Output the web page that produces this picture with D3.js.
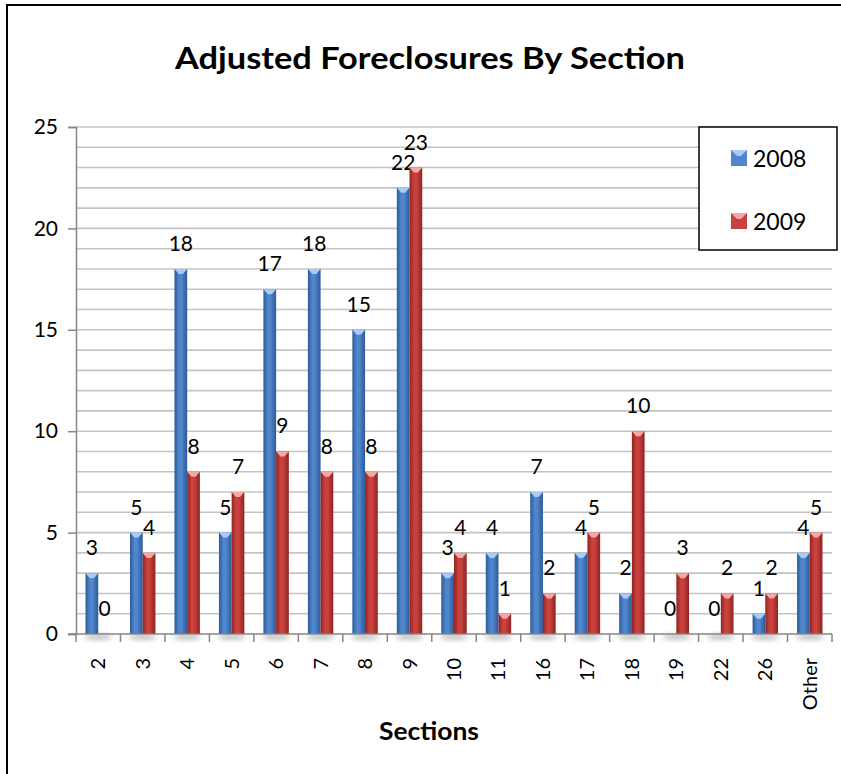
<html>
<head>
<script src="https://cdnjs.cloudflare.com/ajax/libs/d3/7.8.5/d3.min.js"></script>
<style>
  body { margin: 0; background: #fff; }
  text { font-family: Lato, "Open Sans", sans-serif; }
</style>
</head>
<body>
<script>
// chart values
var sections = ["2", "3", "4", "5", "6", "7", "8", "9", "10", "11", "16", "17", "18", "19", "22", "26", "Other"];
var years = ["2008", "2009"];
var v2008 = [3, 5, 18, 5, 17, 18, 15, 22, 3, 4, 7, 4, 2, 0, 0, 1, 4];
var v2009 = [0, 4, 8, 7, 9, 8, 8, 23, 4, 1, 2, 5, 10, 3, 2, 2, 5];
var yTicks = [0, 5, 10, 15, 20, 25];

var width = 841, height = 774;
var plot = {left: 76, right: 832, top: 127, bottom: 634};

var svg = d3.select("body").append("svg")
    .attr("width", width)
    .attr("height", height);

// colour gradients for the bars
var defs = svg.append("defs");
var colors = {
    "2008": {dark: "#2c5a97", mid: "#4f86cc", light: "#8fb8ec", cap: "#a9cbf5"},
    "2009": {dark: "#8e2422", mid: "#c9413d", light: "#e98582", cap: "#f4a9a6"}
};
years.forEach(function(y) {
    var g = defs.append("linearGradient").attr("id", "grad" + y)
        .attr("x1", "0%").attr("x2", "100%").attr("y1", "0%").attr("y2", "0%");
    g.append("stop").attr("offset", "0%").attr("stop-color", colors[y].dark);
    g.append("stop").attr("offset", "35%").attr("stop-color", colors[y].mid);
    g.append("stop").attr("offset", "55%").attr("stop-color", colors[y].mid);
    g.append("stop").attr("offset", "100%").attr("stop-color", colors[y].dark);
});
var shadow = defs.append("filter").attr("id", "shadow")
    .attr("x", "-50%").attr("y", "-50%").attr("width", "200%").attr("height", "200%");
shadow.append("feGaussianBlur").attr("stdDeviation", 2.5);

// outer frame (runs past the window on the right and bottom)
svg.append("rect")
    .attr("x", 7).attr("y", 5)
    .attr("width", 860).attr("height", 800)
    .attr("fill", "none")
    .attr("stroke", "#000")
    .attr("stroke-width", 2);

// title
svg.append("text")
    .attr("x", 430).attr("y", 69)
    .attr("text-anchor", "middle")
    .attr("font-size", 30)
    .attr("font-weight", "bold")
    .attr("textLength", 510)
    .attr("lengthAdjust", "spacingAndGlyphs")
    .text("Adjusted Foreclosures By Section");

var x0 = d3.scaleBand().domain(sections).range([plot.left, plot.right]);
var x1 = d3.scaleBand().domain(years).range([0, x0.bandwidth()]).paddingOuter(0.75);
var y = d3.scaleLinear().domain([0, 25]).range([plot.bottom, plot.top]);

// gridlines, one per unit
svg.append("g").selectAll("line")
    .data(d3.range(1, 26))
    .enter().append("line")
    .attr("x1", plot.left).attr("x2", plot.right)
    .attr("y1", function(d) { return y(d); })
    .attr("y2", function(d) { return y(d); })
    .attr("stroke", "#c4c4c4")
    .attr("stroke-width", 1.6);

// y axis
var yAxis = svg.append("g")
    .attr("transform", "translate(" + plot.left + ",0)")
    .call(d3.axisLeft(y).tickValues(yTicks).tickSize(8).tickPadding(10));
yAxis.select(".domain").attr("stroke", "#868686").attr("stroke-width", 1.5);
yAxis.selectAll(".tick line").attr("stroke", "#868686").attr("stroke-width", 1.5);
yAxis.selectAll("text").attr("font-size", 21).attr("fill", "#000")
    .style("font-family", "Lato, 'Open Sans', sans-serif");

// bars
var rows = sections.map(function(s, i) {
    return {section: s, values: [{year: "2008", v: v2008[i]}, {year: "2009", v: v2009[i]}]};
});

var groups = svg.append("g").selectAll("g")
    .data(rows)
    .enter().append("g")
    .attr("transform", function(d) { return "translate(" + x0(d.section) + ",0)"; });

// soft shadow under each group
groups.append("ellipse")
    .attr("cx", x0.bandwidth() / 2)
    .attr("cy", plot.bottom + 3)
    .attr("rx", x1.bandwidth() * 1.1)
    .attr("ry", 3)
    .attr("fill", "#999")
    .attr("opacity", 0.6)
    .attr("filter", "url(#shadow)");

var bars = groups.selectAll(".bar")
    .data(function(d) { return d.values; })
    .enter().append("g")
    .attr("class", "bar");

bars.filter(function(d) { return d.v > 0; })
    .append("rect")
    .attr("x", function(d) { return x1(d.year); })
    .attr("y", function(d) { return y(d.v); })
    .attr("width", x1.bandwidth())
    .attr("height", function(d) { return y(0) - y(d.v); })
    .attr("fill", function(d) { return "url(#grad" + d.year + ")"; });

// bevelled cap on top of each bar
bars.filter(function(d) { return d.v > 0; })
    .append("path")
    .attr("d", function(d) {
        var bx = x1(d.year), bw = x1.bandwidth(), by = y(d.v);
        return "M" + bx + "," + by + "L" + (bx + bw) + "," + by +
            "L" + (bx + bw / 2 + 2) + "," + (by + 5) + "L" + (bx + bw / 2 - 2) + "," + (by + 5) + "Z";
    })
    .attr("fill", function(d) { return colors[d.year].cap; });

// value labels
bars.append("text")
    .attr("x", function(d) { return x1(d.year) + x1.bandwidth() / 2; })
    .attr("y", function(d) { return y(d.v) - 18; })
    .attr("text-anchor", "middle")
    .attr("font-size", 21)
    .text(function(d) { return d.v; });

// x axis
var xAxis = svg.append("g")
    .attr("transform", "translate(0," + plot.bottom + ")")
    .call(d3.axisBottom(x0).tickSize(0).tickPadding(0));
xAxis.select(".domain").attr("stroke", "#868686").attr("stroke-width", 1.5)
    .attr("d", "M" + (plot.left - 8) + ",0H" + plot.right);
xAxis.selectAll("text")
    .attr("font-size", 20)
    .attr("fill", "#000")
    .style("font-family", "Lato, 'Open Sans', sans-serif")
    .attr("text-anchor", "end")
    .attr("transform", "translate(0,24) rotate(-90)")
    .attr("x", 0).attr("y", 0).attr("dy", "0.35em");

// tick marks between categories
svg.append("g").selectAll("line")
    .data(sections.concat(["end"]))
    .enter().append("line")
    .attr("x1", function(d, i) { return plot.left + i * x0.step(); })
    .attr("x2", function(d, i) { return plot.left + i * x0.step(); })
    .attr("y1", plot.bottom).attr("y2", plot.bottom + 8)
    .attr("stroke", "#868686").attr("stroke-width", 1.5);

// axis title
svg.append("text")
    .attr("x", 429).attr("y", 740)
    .attr("text-anchor", "middle")
    .attr("font-size", 24)
    .attr("font-weight", "bold")
    .attr("textLength", 100)
    .attr("lengthAdjust", "spacingAndGlyphs")
    .text("Sections");

// legend
var legend = svg.append("g");
legend.append("rect")
    .attr("x", 699).attr("y", 127)
    .attr("width", 138).attr("height", 123)
    .attr("fill", "#fff")
    .attr("stroke", "#000")
    .attr("stroke-width", 1.5);
var items = legend.selectAll(".item")
    .data(years)
    .enter().append("g")
    .attr("transform", function(d, i) { return "translate(731," + (150 + i * 63) + ")"; });
items.append("rect")
    .attr("width", 16).attr("height", 16)
    .attr("fill", function(d) { return colors[d].mid; });
items.append("path")
    .attr("d", "M0,0L16,0L10,6L6,6Z")
    .attr("fill", function(d) { return colors[d].cap; });
items.append("text")
    .attr("x", 22).attr("y", 17)
    .attr("font-size", 23)
    .text(function(d) { return d; });
</script>
</body>
</html>
